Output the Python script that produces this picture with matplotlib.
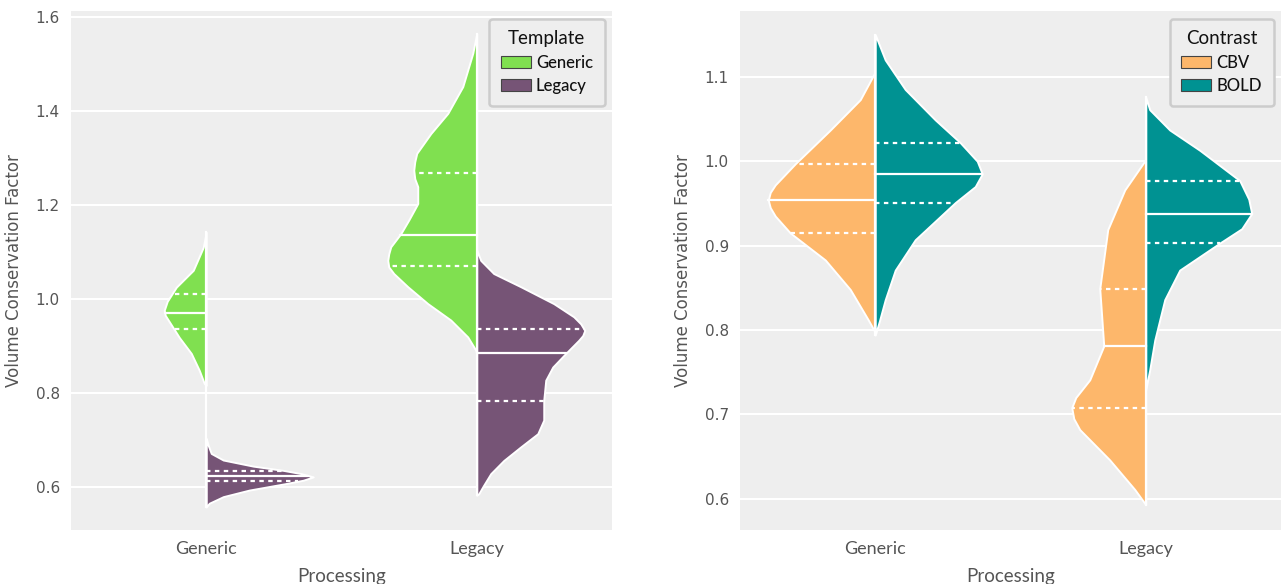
import numpy as np
import matplotlib
matplotlib.use('Agg')
import matplotlib.pyplot as plt
from matplotlib.patches import Patch

# categories on the x axis
processing = ['Generic', 'Legacy']

# ---- left panel: Template (Generic = left half, Legacy = right half)
# each profile: y values and half-widths (picture pixels)
tmpl_gen_gen_y = [1.142, 1.110, 1.061, 1.025, 0.995, 0.976, 0.965, 0.955, 0.918, 0.884, 0.848, 0.820, 0.816]
tmpl_gen_gen_w = [0.0, 3, 13, 30, 39, 42, 41, 38, 27, 15, 7, 2, 0.0]
tmpl_gen_leg_y = [0.703, 0.688, 0.671, 0.657, 0.644, 0.635, 0.628, 0.621, 0.614, 0.607, 0.593, 0.579, 0.565, 0.557]
tmpl_gen_leg_w = [0.0, 2, 5, 17, 47, 77, 95, 107, 97, 80, 43, 17, 3, 0.0]
tmpl_leg_gen_y = [1.565, 1.523, 1.452, 1.395, 1.352, 1.310, 1.292, 1.274, 1.256, 1.239, 1.203, 1.168, 1.139,
                  1.111, 1.096, 1.082, 1.068, 1.054, 1.026, 0.990, 0.955, 0.919, 0.891, 0.884]
tmpl_leg_gen_w = [0.0, 4, 14, 29, 46, 60, 62, 63, 62, 59, 59, 68, 76, 86, 88, 89, 88, 83, 69, 49, 26, 9, 1, 0.0]
tmpl_leg_leg_y = [1.104, 1.082, 1.054, 1.026, 0.990, 0.962, 0.947, 0.933, 0.922, 0.912, 0.884, 0.855, 0.827,
                  0.784, 0.742, 0.713, 0.685, 0.656, 0.628, 0.600, 0.585, 0.582]
tmpl_leg_leg_w = [0.0, 4, 17, 44, 77, 97, 104, 108, 106, 102, 89, 76, 69, 67, 67, 61, 44, 27, 14, 6, 2, 0.0]
# quartiles (q1, median, q3)
tmpl_quart = {('Generic', 'Generic'): (0.937, 0.970, 1.010),
              ('Generic', 'Legacy'): (0.612, 0.624, 0.634),
              ('Legacy', 'Generic'): (1.070, 1.136, 1.268),
              ('Legacy', 'Legacy'): (0.782, 0.884, 0.937)}

# ---- right panel: Contrast (CBV = left half, BOLD = right half)
con_gen_cbv_y = [1.106, 1.073, 1.037, 0.997, 0.972, 0.963, 0.954, 0.945, 0.935, 0.915, 0.883, 0.848, 0.812, 0.797]
con_gen_cbv_w = [0.0, 15, 45, 80, 100, 105, 107, 105, 100, 85, 50, 25, 7, 0.0]
con_gen_bold_y = [1.150, 1.120, 1.085, 1.049, 1.022, 1.000, 0.985, 0.970, 0.951, 0.907, 0.871, 0.836, 0.810, 0.794]
con_gen_bold_w = [0.0, 10, 30, 60, 85, 102, 107, 100, 80, 40, 20, 10, 4, 0.0]
con_leg_cbv_y = [1.002, 0.966, 0.919, 0.849, 0.815, 0.781, 0.741, 0.720, 0.708, 0.695, 0.682, 0.646, 0.611, 0.593]
con_leg_cbv_w = [0.0, 21, 38, 46, 44, 42, 56, 70, 74, 72, 66, 36, 11, 0.0]
con_leg_bold_y = [1.076, 1.061, 1.037, 1.013, 0.977, 0.955, 0.938, 0.920, 0.903, 0.871, 0.836, 0.788, 0.753, 0.729]
con_leg_bold_w = [0.0, 4, 24, 54, 94, 103, 106, 96, 74, 34, 19, 9, 4, 0.0]
con_quart = {('Generic', 'CBV'): (0.915, 0.954, 0.997),
             ('Generic', 'BOLD'): (0.951, 0.985, 1.022),
             ('Legacy', 'CBV'): (0.708, 0.781, 0.849),
             ('Legacy', 'BOLD'): (0.903, 0.938, 0.977)}

PX = 270.5  # picture pixels per x data unit (widths above were measured in pixels)

green, purple = '#80e050', '#765476'
orange, teal = '#fdb76b', '#009292'
txt = '#555555'

plt.rcParams['font.family'] = ['Lato', 'DejaVu Sans']


def half(ax, pos, y, w, side, color, quart):
    y = np.array(y)
    w = np.array(w, dtype=float) / PX
    if side < 0:
        ax.fill_betweenx(y, pos - w, pos, facecolor=color, edgecolor='white', linewidth=1.4, zorder=2)
    else:
        ax.fill_betweenx(y, pos, pos + w, facecolor=color, edgecolor='white', linewidth=1.4, zorder=2)
    order = np.argsort(y)
    for i, q in enumerate(quart):
        qw = np.interp(q, y[order], w[order])
        ls = '-' if i == 1 else (0, (2, 2))
        ax.plot([pos, pos + side * qw], [q, q], color='white', lw=1.6, ls=ls, zorder=3)


def style(ax, ylim, yticks):
    ax.set_facecolor('#eeeeee')
    for s in ax.spines.values():
        s.set_visible(False)
    ax.set_xlim(-0.5, 1.5)
    ax.set_ylim(*ylim)
    ax.set_yticks(yticks)
    ax.set_yticklabels([f'{t:.1f}' for t in yticks], fontfamily='DejaVu Sans', fontsize=11, color=txt)
    ax.set_xticks(range(len(processing)))
    ax.set_xticklabels(processing, fontsize=13, color=txt)
    ax.tick_params(axis='y', length=0, pad=8)
    ax.tick_params(axis='x', length=0, pad=8)
    ax.grid(axis='y', color='white', lw=1.5, zorder=0)
    ax.set_axisbelow(True)
    ax.set_xlabel('Processing', fontsize=13.5, color=txt, labelpad=8)
    ax.set_ylabel('Volume Conservation Factor', fontfamily='DejaVu Sans', fontsize=12, color=txt, labelpad=9)


fig = plt.figure(figsize=(12.83, 5.84), dpi=100)
ax1 = fig.add_axes([71 / 1283, 54 / 584, 541 / 1283, 519 / 584])
ax2 = fig.add_axes([740 / 1283, 54 / 584, 541 / 1283, 519 / 584])

left = [(tmpl_gen_gen_y, tmpl_gen_gen_w, tmpl_gen_leg_y, tmpl_gen_leg_w),
        (tmpl_leg_gen_y, tmpl_leg_gen_w, tmpl_leg_leg_y, tmpl_leg_leg_w)]
for i, (ya, wa, yb, wb) in enumerate(left):
    ax1.plot([i, i], [min(ya + yb), max(ya + yb)], color='white', lw=1.6, zorder=2.5)
    half(ax1, i, ya, wa, -1, green, tmpl_quart[(processing[i], 'Generic')])
    half(ax1, i, yb, wb, 1, purple, tmpl_quart[(processing[i], 'Legacy')])

right = [(con_gen_cbv_y, con_gen_cbv_w, con_gen_bold_y, con_gen_bold_w),
         (con_leg_cbv_y, con_leg_cbv_w, con_leg_bold_y, con_leg_bold_w)]
for i, (ya, wa, yb, wb) in enumerate(right):
    ax2.plot([i, i], [min(ya + yb), max(ya + yb)], color='white', lw=1.6, zorder=2.5)
    half(ax2, i, ya, wa, -1, orange, con_quart[(processing[i], 'CBV')])
    half(ax2, i, yb, wb, 1, teal, con_quart[(processing[i], 'BOLD')])

style(ax1, (0.508, 1.613), [0.6, 0.8, 1.0, 1.2, 1.4, 1.6])
style(ax2, (0.563, 1.178), [0.6, 0.7, 0.8, 0.9, 1.0, 1.1])


def legend(ax, title, labels, colors):
    handles = [Patch(facecolor=c, edgecolor='#444444', lw=0.8) for c in colors]
    lg = ax.legend(handles, labels, title=title, loc='upper right', fontsize=12,
                   title_fontsize=13.5, frameon=True, fancybox=True, borderpad=0.7,
                   handlelength=1.8, handleheight=0.7, handletextpad=0.3, labelspacing=0.45,
                   borderaxespad=0.45)
    fr = lg.get_frame()
    fr.set_facecolor('#eeeeee')
    fr.set_edgecolor('#cccccc')
    fr.set_linewidth(1.8)
    fr.set_alpha(1)
    lg.set_zorder(5)
    for t in lg.get_texts():
        t.set_color('#111111')
        t.set_fontweight('medium')
    lg.get_title().set_color('#111111')


legend(ax1, 'Template', ['Generic', 'Legacy'], [green, purple])
legend(ax2, 'Contrast', ['CBV', 'BOLD'], [orange, teal])

fig.savefig('out.png', dpi=100)
